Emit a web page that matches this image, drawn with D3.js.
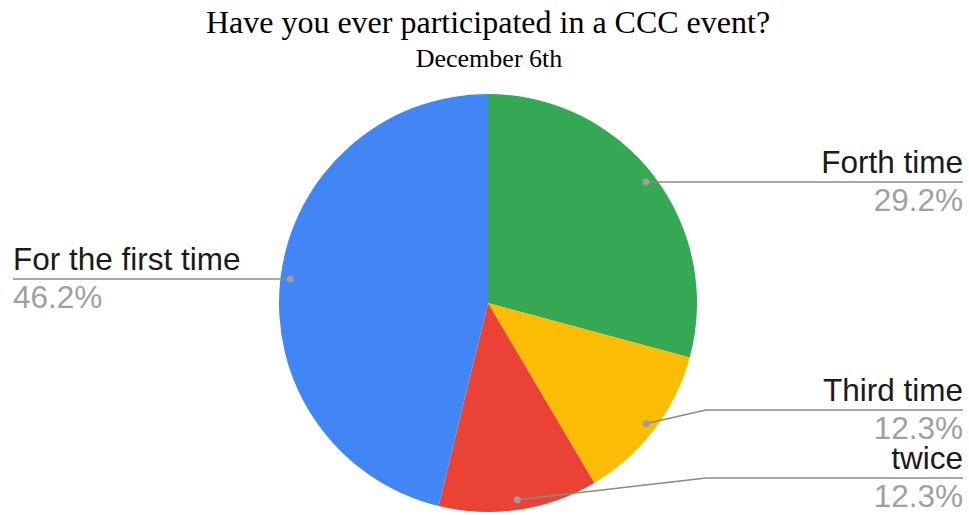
<!DOCTYPE html>
<html><head><meta charset="utf-8">
<script src="https://cdn.jsdelivr.net/npm/d3@7"></script>
<style>body{margin:0;background:#fff}svg{display:block}</style>
</head><body>
<svg id="c" width="969" height="515"></svg>
<script>
const categories = ["Forth time", "Third time", "twice", "For the first time"];
const values = [29.2, 12.3, 12.3, 46.2];
const percentLabels = ["29.2%", "12.3%", "12.3%", "46.2%"];
const colors = ["#34A853", "#FBBC04", "#EA4335", "#4285F4"];
const title = "Have you ever participated in a CCC event?";
const subtitle = "December 6th";

const svg = d3.select("#c");
const cx = 488, cy = 303, R = 209;

svg.append("text").attr("x", 488).attr("y", 33).attr("text-anchor", "middle")
  .attr("font-family", "Liberation Serif, Times New Roman, serif").attr("font-size", 32)
  .attr("fill", "#000").text(title);
svg.append("text").attr("x", 489).attr("y", 67).attr("text-anchor", "middle")
  .attr("font-family", "Liberation Serif, Times New Roman, serif").attr("font-size", 26)
  .attr("fill", "#000").text(subtitle);

const data = categories.map((c, i) => ({c, v: values[i], p: percentLabels[i], col: colors[i]}));
const pie = d3.pie().value(d => d.v).sort(null);
const arcs = pie(data);
const arc = d3.arc().innerRadius(0).outerRadius(R);
const g = svg.append("g").attr("transform", `translate(${cx},${cy})`);
g.selectAll("path").data(arcs).join("path").attr("d", arc).attr("fill", d => d.data.col);

const dotArc = d3.arc().innerRadius(R * 0.952).outerRadius(R * 0.952);
const lineY = {"Forth time": 182, "Third time": 410, "twice": 478, "For the first time": 279};
const lab = svg.append("g");
arcs.forEach(a => {
  const [dx, dy] = dotArc.centroid(a);
  const px = cx + dx, py = cy + dy;
  const ly = lineY[a.data.c];
  const right = (a.startAngle + a.endAngle) / 2 < Math.PI;
  let pts;
  if (right) {
    pts = Math.abs(py - ly) < 2 ? [[px, ly], [963, ly]] : [[px, py], [706, ly], [963, ly]];
  } else {
    pts = [[px, ly], [13, ly]];
  }
  lab.append("path").attr("d", d3.line()(pts)).attr("fill", "none")
    .attr("stroke", "#8a8a8a").attr("stroke-width", 1.5);
  lab.append("circle").attr("cx", pts[0][0]).attr("cy", pts[0][1]).attr("r", 3.5).attr("fill", "#9e9e9e");
  const tx = right ? 963 : 13;
  const anchor = right ? "end" : "start";
  lab.append("text").attr("x", tx).attr("y", ly - 9).attr("text-anchor", anchor)
    .attr("font-family", "Liberation Sans, Arial, sans-serif").attr("font-size", 31.5)
    .attr("fill", "#1a1a1a").text(a.data.c);
  lab.append("text").attr("x", tx).attr("y", ly + 29).attr("text-anchor", anchor)
    .attr("font-family", "Liberation Sans, Arial, sans-serif").attr("font-size", 31.5)
    .attr("fill", "#a0a0a0").text(a.data.p);
});
</script>
</body></html>
